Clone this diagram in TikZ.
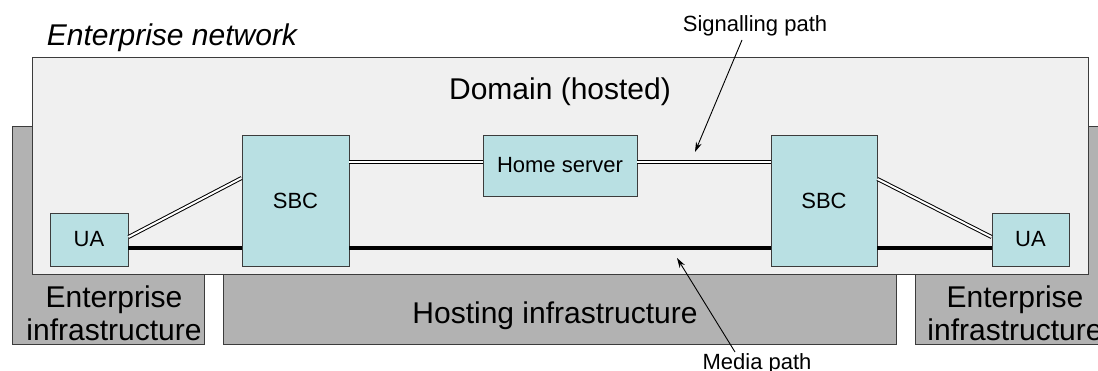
\documentclass[tikz,border=0pt]{standalone}
\usepackage{fontspec}
\setmainfont{Liberation Sans}
\usetikzlibrary{arrows.meta}
\definecolor{infragray}{RGB}{178,178,178}
\definecolor{domfill}{RGB}{240,240,240}
\definecolor{boxcyan}{RGB}{185,224,227}
\definecolor{edge}{RGB}{60,60,60}
\tikzset{
  area/.style={draw=edge, line width=0.9pt, inner sep=0pt},
  infra/.style={area, fill=infragray},
  dom/.style={area, fill=domfill},
  element/.style={draw=edge, line width=0.9pt, fill=boxcyan, inner sep=0pt, font=\fontsize{22}{26}\selectfont},
  bigtext/.style={font=\fontsize{30}{33}\selectfont, align=center, inner sep=0pt},
  smalltext/.style={font=\fontsize{22}{26}\selectfont, inner sep=0pt},
  sig/.style={draw=black, line width=1pt, double=white, double distance=2pt},
  media/.style={draw=black, line width=4pt},
  pointer/.style={draw=black, line width=0.9pt, -{Stealth[length=10pt,width=6pt]}}
}
\begin{document}
\begin{tikzpicture}[x=1pt, y=-1pt]
\useasboundingbox (0,0) rectangle (1098,371);
\clip (0,0) rectangle (1098,371);
% infrastructure boxes
\node[infra, minimum width=192pt, minimum height=218pt] (entL) at (108,235) {};
\node[infra, minimum width=673pt, minimum height=144pt] (host) at (559.5,272) {};
\node[infra, minimum width=200pt, minimum height=218pt] (entR) at (1015,235) {};
% domain
\node[dom, minimum width=1056pt, minimum height=217pt] (dom) at (560,165.5) {};
% texts
\node[bigtext, anchor=base] (entLt) at (114,341) {Enterprise\\infrastructure};
\node[bigtext, anchor=base] (hostt) at (555,324) {Hosting infrastructure};
\node[bigtext, anchor=base] (entRt) at (1015,341) {Enterprise\\infrastructure};
\node[bigtext, anchor=base] (domt) at (560,100) {Domain (hosted)};
\node[bigtext, anchor=base] (entnet) at (172,46) {\itshape Enterprise network};
% elements
\node[element, minimum width=78pt, minimum height=53pt] (ua1) at (89,239.5) {UA};
\node[element, minimum width=107pt, minimum height=131pt] (sbc1) at (295.5,200.5) {SBC};
\node[element, minimum width=154pt, minimum height=61pt] (hs) at (560,165.5) {Home server};
\node[element, minimum width=106pt, minimum height=131pt] (sbc2) at (824,200.5) {SBC};
\node[element, minimum width=77pt, minimum height=53pt] (ua2) at (1030.5,239.5) {UA};
% signalling paths
\draw[sig] (ua1.east |- 0,237) -- (sbc1.west |- 0,178);
\draw[sig] (sbc1.east |- 0,162) -- (hs.west |- 0,162);
\draw[sig] (hs.east |- 0,162) -- (sbc2.west |- 0,162);
\draw[sig] (sbc2.east |- 0,179) -- (ua2.west |- 0,237);
% media paths
\draw[media] (ua1.east |- 0,248) -- (sbc1.west |- 0,248);
\draw[media] (sbc1.east |- 0,248) -- (sbc2.west |- 0,248);
\draw[media] (sbc2.east |- 0,248) -- (ua2.west |- 0,248);
% labels with pointers
\node[smalltext, anchor=base] (sigt) at (755,32) {Signalling path};
\node[smalltext, anchor=base] (medt) at (757,370) {Media path};
\coordinate (sigtip) at (695,152);
\coordinate (sigtail) at (742,40);
\coordinate (medtip) at (677,258);
\coordinate (medtail) at (735,352);
\draw[pointer] (sigtail) -- (sigtip);
\draw[pointer] (medtail) -- (medtip);
\end{tikzpicture}
\end{document}
